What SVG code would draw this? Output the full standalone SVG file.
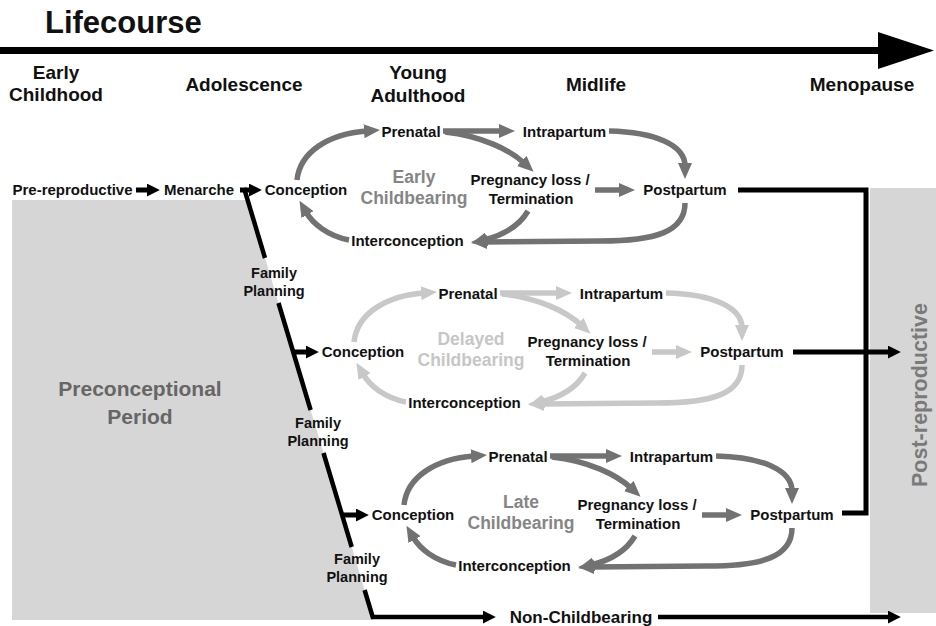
<svg xmlns="http://www.w3.org/2000/svg" width="936" height="626" viewBox="0 0 936 626">
<defs>
<style>
text{font-family:"Liberation Sans",Arial,sans-serif;font-weight:bold}
.n{font-size:15px;fill:#111;text-anchor:middle}
.h{font-size:19px;fill:#111;text-anchor:middle}
.fp{font-size:14.5px;fill:#111;text-anchor:middle}
.lbd{font-size:17.5px;fill:#858585;text-anchor:middle}
.lbl{font-size:17.5px;fill:#c6c6c6;text-anchor:middle}
.c{fill:none;stroke-width:5.5}
.dk{stroke:#727272}
.lt{stroke:#c8c8c8}
.bk{fill:none;stroke:#000;stroke-width:5}
.bl{fill:none;stroke:#000;stroke-width:4.5}
</style>
<marker id="ad" viewBox="0 0 16 14" markerWidth="16" markerHeight="14" markerUnits="userSpaceOnUse" refX="3" refY="7" orient="auto"><path d="M0,0 L16,7 L0,14 z" fill="#727272"/></marker>
<marker id="al" viewBox="0 0 16 14" markerWidth="16" markerHeight="14" markerUnits="userSpaceOnUse" refX="3" refY="7" orient="auto"><path d="M0,0 L16,7 L0,14 z" fill="#c8c8c8"/></marker>
<marker id="ab" viewBox="0 0 12 12" markerWidth="13" markerHeight="13" markerUnits="userSpaceOnUse" refX="2" refY="6" orient="auto"><path d="M0,0 L12,6 L0,12 z" fill="#000"/></marker>
</defs>
<rect width="936" height="626" fill="#fff"/>

<!-- background regions -->
<g id="preconceptional-region">
<polygon points="12,200 247.6,200 373.6,620 12,620" fill="#d6d6d6"/>
<text x="140" y="396" font-size="21" fill="#666" text-anchor="middle">Preconceptional</text>
<text x="140" y="424" font-size="21" fill="#666" text-anchor="middle">Period</text>
</g>
<g id="postreproductive-region">
<rect x="870" y="188" width="66" height="425" fill="#d6d6d6"/>
<text transform="translate(927,395) rotate(-90)" font-size="21.5" fill="#7a7a7a" text-anchor="middle">Post-reproductive</text>
</g>

<!-- lifecourse header -->
<g id="lifecourse">
<text x="45" y="33" font-size="31" fill="#111">Lifecourse</text>
<path d="M0,47 H878 V32 L934,50.5 L878,69 V54 H0 Z" fill="#000"/>
</g>
<g id="stage-early-childhood"><text class="h" x="56" y="79">Early</text><text class="h" x="56" y="101">Childhood</text></g>
<g id="stage-adolescence"><text class="h" x="244" y="91">Adolescence</text></g>
<g id="stage-young-adulthood"><text class="h" x="418" y="79">Young</text><text class="h" x="418" y="102">Adulthood</text></g>
<g id="stage-midlife"><text class="h" x="596" y="91">Midlife</text></g>
<g id="stage-menopause"><text class="h" x="862" y="91">Menopause</text></g>

<!-- connectors -->
<g id="connectors">
  <!-- black flow -->
  <path class="bk" d="M136,190 H149" marker-end="url(#ab)"/>
  <path class="bk" d="M240,190 H251" marker-end="url(#ab)"/>
  <path class="bl" d="M244,188 L265,258"/>
  <path class="bl" d="M278.5,303 L310.6,410"/>
  <path class="bl" d="M323.5,453 L351.7,547"/>
  <path class="bl" d="M364.6,590 L372.7,617 H485" marker-end="url(#ab)"/>
  <path class="bl" d="M658,617 H890" marker-end="url(#ab)"/>
  <path class="bk" d="M293,352 H308" marker-end="url(#ab)"/>
  <path class="bk" d="M343,515 H358" marker-end="url(#ab)"/>
  <path class="bk" d="M738,190 H866 V513 H842" stroke-linejoin="miter"/>
  <path class="bk" d="M793,352 H890" marker-end="url(#ab)"/>

  <!-- early childbearing cycle -->
  <g id="cycle-early">
    <path class="c dk" d="M297,180 C300,152 328,134 367,131" marker-end="url(#ad)"/>
    <path class="c dk" d="M443,131 H502" marker-end="url(#ad)"/>
    <path class="c dk" d="M445,132 C482,136 510,150 524,163" marker-end="url(#ad)"/>
    <path class="c dk" d="M609,131 C655,132 685,145 685,166" marker-end="url(#ad)"/>
    <path class="c dk" d="M595,190 H622" marker-end="url(#ad)"/>
    <path class="c dk" d="M685,203 C685,232 655,241 600,241 L484,242" marker-end="url(#ad)"/>
    <path class="c dk" d="M528,211 C518,228 500,236 484,240" marker-end="url(#ad)"/>
    <path class="c dk" d="M349,240 C328,236 313,224 306,212" marker-end="url(#ad)"/>
  </g>
  <g id="cycle-delayed" transform="translate(57,162)">
    <path class="c lt" d="M297,180 C300,152 328,134 367,131" marker-end="url(#al)"/>
    <path class="c lt" d="M443,131 H502" marker-end="url(#al)"/>
    <path class="c lt" d="M445,132 C482,136 510,150 524,163" marker-end="url(#al)"/>
    <path class="c lt" d="M609,131 C655,132 685,145 685,166" marker-end="url(#al)"/>
    <path class="c lt" d="M595,190 H622" marker-end="url(#al)"/>
    <path class="c lt" d="M685,203 C685,232 655,241 600,241 L484,242" marker-end="url(#al)"/>
    <path class="c lt" d="M528,211 C518,228 500,236 484,240" marker-end="url(#al)"/>
    <path class="c lt" d="M349,240 C328,236 313,224 306,212" marker-end="url(#al)"/>
  </g>
  <g id="cycle-late" transform="translate(107,325)">
    <path class="c dk" d="M297,180 C300,152 328,134 367,131" marker-end="url(#ad)"/>
    <path class="c dk" d="M443,131 H502" marker-end="url(#ad)"/>
    <path class="c dk" d="M445,132 C482,136 510,150 524,163" marker-end="url(#ad)"/>
    <path class="c dk" d="M609,131 C655,132 685,145 685,166" marker-end="url(#ad)"/>
    <path class="c dk" d="M595,190 H622" marker-end="url(#ad)"/>
    <path class="c dk" d="M685,203 C685,232 655,241 600,241 L484,242" marker-end="url(#ad)"/>
    <path class="c dk" d="M528,211 C518,228 500,236 484,240" marker-end="url(#ad)"/>
    <path class="c dk" d="M349,240 C328,236 313,224 306,212" marker-end="url(#ad)"/>
  </g>
</g>

<!-- nodes -->
<g id="pre-reproductive"><text class="n" x="72.5" y="195">Pre-reproductive</text></g>
<g id="menarche"><text class="n" x="199" y="195">Menarche</text></g>
<g id="family-planning-1"><text class="fp" x="274" y="278">Family</text><text class="fp" x="274" y="296">Planning</text></g>
<g id="family-planning-2"><text class="fp" x="318" y="428">Family</text><text class="fp" x="318" y="446">Planning</text></g>
<g id="family-planning-3"><text class="fp" x="357" y="564">Family</text><text class="fp" x="357" y="582">Planning</text></g>
<g id="non-childbearing"><text x="581" y="623" font-size="17" fill="#111" text-anchor="middle">Non-Childbearing</text></g>

<g id="early">
  <g id="early-label"><text class="lbd" x="414" y="183">Early</text><text class="lbd" x="414" y="204">Childbearing</text></g>
  <g id="early-conception"><text class="n" x="306" y="195">Conception</text></g>
  <g id="early-prenatal"><text class="n" x="411" y="137">Prenatal</text></g>
  <g id="early-intrapartum"><text class="n" x="564.5" y="137">Intrapartum</text></g>
  <g id="early-pregnancy-loss"><text class="n" x="530" y="185">Pregnancy loss /</text><text class="n" x="531" y="204">Termination</text></g>
  <g id="early-postpartum"><text class="n" x="685" y="195">Postpartum</text></g>
  <g id="early-interconception"><text class="n" x="407.5" y="246">Interconception</text></g>
</g>
<g id="delayed" transform="translate(57,162)">
  <g id="delayed-label"><text class="lbl" x="414" y="183">Delayed</text><text class="lbl" x="414" y="204">Childbearing</text></g>
  <g id="delayed-conception"><text class="n" x="306" y="195">Conception</text></g>
  <g id="delayed-prenatal"><text class="n" x="411" y="137">Prenatal</text></g>
  <g id="delayed-intrapartum"><text class="n" x="564.5" y="137">Intrapartum</text></g>
  <g id="delayed-pregnancy-loss"><text class="n" x="530" y="185">Pregnancy loss /</text><text class="n" x="531" y="204">Termination</text></g>
  <g id="delayed-postpartum"><text class="n" x="685" y="195">Postpartum</text></g>
  <g id="delayed-interconception"><text class="n" x="407.5" y="246">Interconception</text></g>
</g>
<g id="late" transform="translate(107,325)">
  <g id="late-label"><text class="lbd" x="414" y="183">Late</text><text class="lbd" x="414" y="204">Childbearing</text></g>
  <g id="late-conception"><text class="n" x="306" y="195">Conception</text></g>
  <g id="late-prenatal"><text class="n" x="411" y="137">Prenatal</text></g>
  <g id="late-intrapartum"><text class="n" x="564.5" y="137">Intrapartum</text></g>
  <g id="late-pregnancy-loss"><text class="n" x="530" y="185">Pregnancy loss /</text><text class="n" x="531" y="204">Termination</text></g>
  <g id="late-postpartum"><text class="n" x="685" y="195">Postpartum</text></g>
  <g id="late-interconception"><text class="n" x="407.5" y="246">Interconception</text></g>
</g>
</svg>
